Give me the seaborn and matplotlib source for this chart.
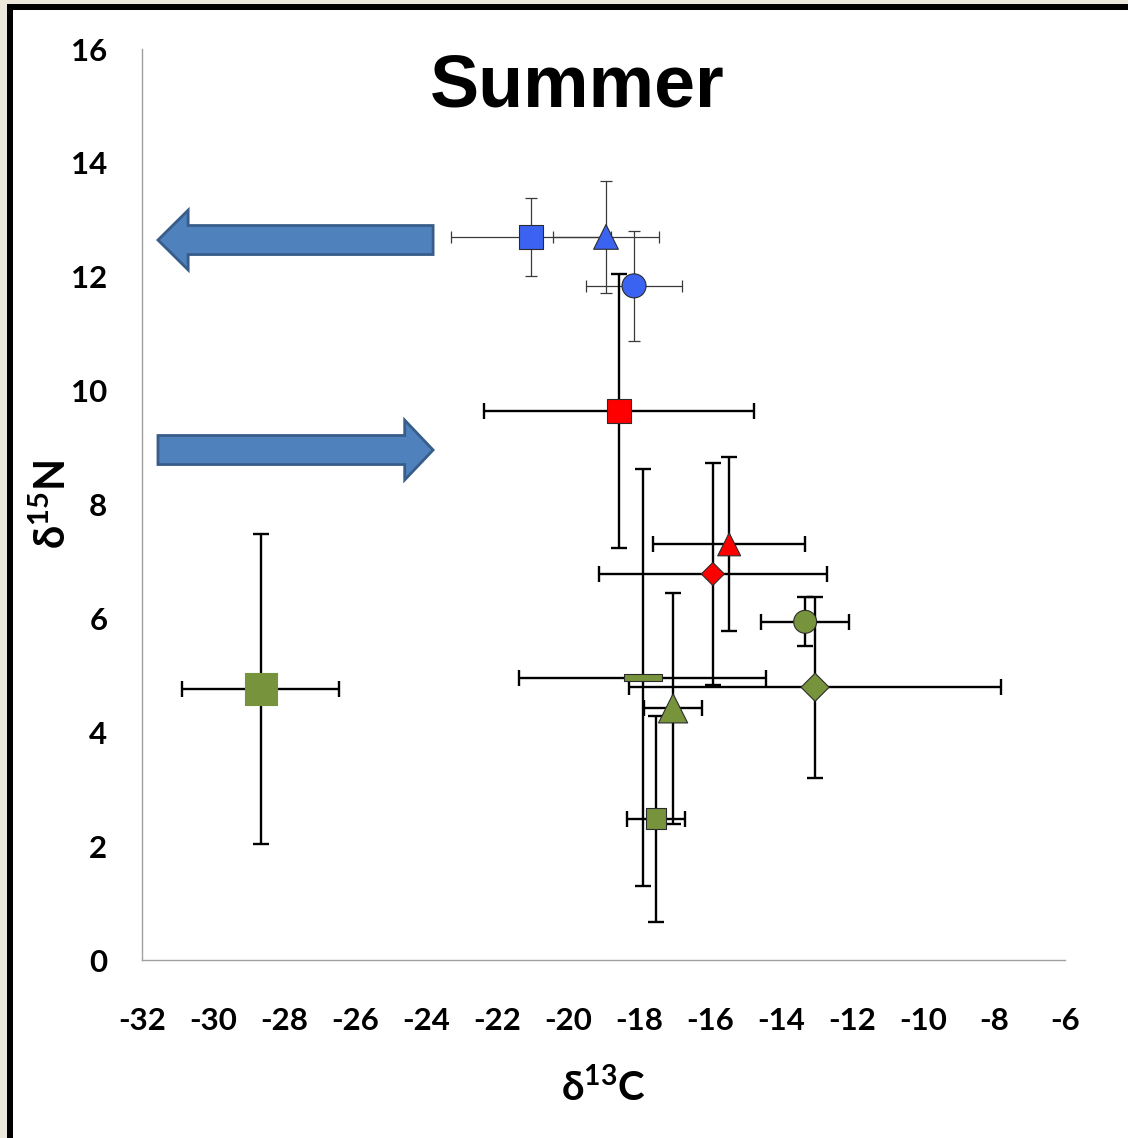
import numpy as np
import pandas as pd
import matplotlib
matplotlib.use("Agg")
import matplotlib.pyplot as plt
from matplotlib.path import Path
from matplotlib.patches import Rectangle, FancyArrow
import seaborn as sns

# Summer isotope means with error bars (d13C, d15N)
groups = ["blue_sq", "blue_tri", "blue_circ", "red_sq", "red_tri", "red_dia",
          "green_circ", "green_dia", "green_dash", "green_tri", "green_sq", "green_big_sq"]
d13c = [-21.04, -18.93, -18.14, -18.56, -15.46, -15.92, -13.32, -13.04, -17.89, -17.04, -17.52, -28.65]
d15n = [12.70, 12.70, 11.84, 9.64, 7.30, 6.78, 5.94, 4.79, 4.96, 4.42, 2.48, 4.76]
d13c_err = [2.26, 1.49, 1.34, 3.80, 2.15, 3.21, 1.24, 5.25, 3.48, 0.81, 0.82, 2.21]
d15n_err = [0.69, 0.98, 0.97, 2.40, 1.53, 1.95, 0.43, 1.59, 3.66, 2.03, 1.81, 2.72]

x_ticks = list(range(-32, -5, 2))
y_ticks = list(range(0, 17, 2))

BLUE = "#3A63F2"
RED = "#FF0000"
GREEN = "#77933C"
ARROW_FACE = "#4F81BD"
ARROW_EDGE = "#385D8A"

dash = Path([(-1, -0.184), (1, -0.184), (1, 0.184), (-1, 0.184), (-1, -0.184)],
            [Path.MOVETO, Path.LINETO, Path.LINETO, Path.LINETO, Path.CLOSEPOLY])

colors = dict(zip(groups, [BLUE, BLUE, BLUE, RED, RED, RED,
                           GREEN, GREEN, GREEN, GREEN, GREEN, GREEN]))
markers = dict(zip(groups, ["s", "^", "o", "s", "^", "D",
                            "o", "D", dash, "^", "s", "s"]))
marker_pt = dict(zip(groups, [17.3, 17.8, 17.3, 17.3, 16.5, 11.7,
                              16.5, 14.3, 27.4, 21.0, 15.0, 23.0]))

df = pd.DataFrame({"group": groups, "d13C": d13c, "d15N": d15n,
                   "xerr": d13c_err, "yerr": d15n_err})

sns.set_theme(style="white")
plt.rcParams["font.family"] = ["Lato", "DejaVu Sans"]
plt.rcParams["font.weight"] = "bold"
plt.rcParams["text.color"] = "black"
plt.rcParams["axes.labelcolor"] = "black"
plt.rcParams["mathtext.fontset"] = "custom"
plt.rcParams["mathtext.rm"] = "Lato:bold"
plt.rcParams["mathtext.bf"] = "Lato:bold"

fig = plt.figure(figsize=(11.28, 11.38), dpi=100)
fig.patch.set_facecolor("white")
ax = fig.add_axes([0.12589, 0.15641, 0.81826, 0.80053])

# error bars first, markers on top
for _, r in df.iterrows():
    thin = r["group"].startswith("blue")
    ax.errorbar(r["d13C"], r["d15N"], xerr=r["xerr"], yerr=r["yerr"], fmt="none",
                ecolor="#3a3a3a" if thin else "black",
                elinewidth=0.9 if thin else 1.7,
                capsize=4.3 if thin else 6, capthick=0.9 if thin else 1.7, zorder=2)

sns.scatterplot(data=df, x="d13C", y="d15N", hue="group", style="group", size="group",
                palette=colors, markers=markers,
                sizes={g: marker_pt[g] ** 2 for g in groups},
                edgecolor="#2b2b2b", linewidth=0.8, legend=False, zorder=3, ax=ax)
pts = ax.collections[-1]
pts.set_edgecolors(["#2b2b2b"] * (len(groups) - 1) + [GREEN])

# arrows drawn as annotations
ax.add_patch(FancyArrow(-23.80, 12.645, -7.75, 0, width=0.51, head_width=1.05,
                        head_length=0.85, length_includes_head=True,
                        fc=ARROW_FACE, ec=ARROW_EDGE, lw=2, zorder=4))
ax.add_patch(FancyArrow(-31.55, 8.957, 7.75, 0, width=0.51, head_width=1.05,
                        head_length=0.80, length_includes_head=True,
                        fc=ARROW_FACE, ec=ARROW_EDGE, lw=2, zorder=4))

ax.set_xlim(-32, -6)
ax.set_ylim(0, 16)
ax.set_xticks(x_ticks)
ax.set_yticks(y_ticks)
ax.set_xticklabels([str(t) for t in x_ticks])
ax.set_yticklabels([str(t) for t in y_ticks])
ax.tick_params(axis="y", direction="in", length=9.4, width=1, color="#a0a0a0",
               labelcolor="black", pad=25, labelsize=22.5)
ax.tick_params(axis="x", direction="in", length=8, width=1, color="#a0a0a0",
               labelcolor="black", pad=34, labelsize=22.5)
for side in ["top", "right"]:
    ax.spines[side].set_visible(False)
for side in ["left", "bottom"]:
    ax.spines[side].set_color("#a0a0a0")
    ax.spines[side].set_linewidth(1)

ax.set_xlabel("δ$^{13}$C", fontsize=29, fontweight="bold")
ax.set_ylabel("δ$^{15}$N", fontsize=30, fontweight="bold")
ax.xaxis.set_label_coords(0.5, -0.118)
ax.yaxis.set_label_coords(-0.0748, 0.5)

fig.text(0.512, 0.9051, "Summer", ha="center", va="baseline", fontsize=53,
         fontweight="bold", color="black", family=["Liberation Sans", "DejaVu Sans"])

# window frame around the figure
W, H = 1128, 1138
fig.patches.append(Rectangle((0, 1 - 4 / H), 1, 4 / H, transform=fig.transFigure,
                             fc="#ECE9DC", ec="none", zorder=0))
fig.patches.append(Rectangle((0, 0), 7 / W, 1, transform=fig.transFigure,
                             fc="#ECE9DC", ec="none", zorder=0))
fig.patches.append(Rectangle((7 / W, 1 - 10 / H), 1, 6 / H, transform=fig.transFigure,
                             fc="black", ec="none", zorder=1))
fig.patches.append(Rectangle((7 / W, 0), 6 / W, 1 - 4 / H, transform=fig.transFigure,
                             fc="black", ec="none", zorder=1))

fig.savefig("out.png", dpi=100)
